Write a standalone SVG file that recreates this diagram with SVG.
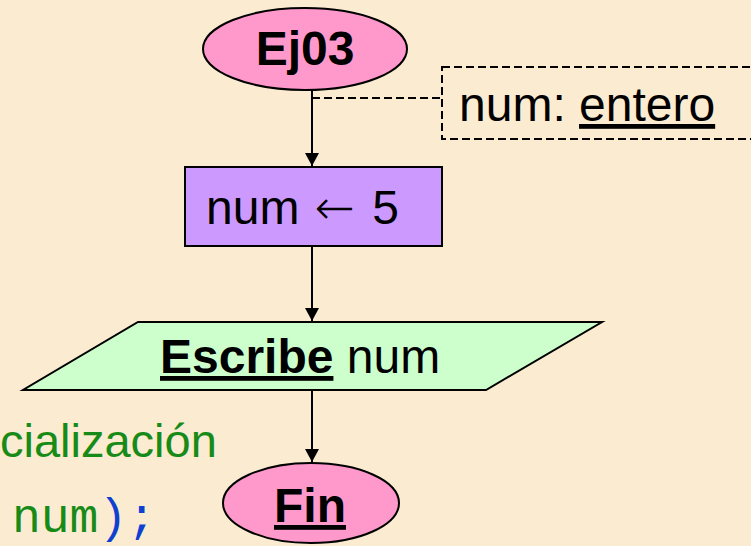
<svg xmlns="http://www.w3.org/2000/svg" width="751" height="546" viewBox="0 0 751 546">
<style>
  .shape{stroke:#000;stroke-width:2}
  .t{font-family:Arial,"Liberation Sans",sans-serif;font-size:48px;fill:#000}
  .b{font-weight:bold}
  .u{text-decoration:underline}
  .conn{stroke:#000;stroke-width:2;fill:none}
  .dash{stroke:#000;stroke-width:2;stroke-dasharray:8 4;fill:none}
  .mono{font-family:"Courier New","Liberation Mono",monospace;font-size:48px}
  .arrowglyph{font-family:"DejaVu Sans",sans-serif;font-weight:200}
</style>
<defs>
  <marker id="arr" markerWidth="14" markerHeight="14" refX="13" refY="7" orient="auto" markerUnits="userSpaceOnUse">
    <path d="M0,0 L13,7 L0,14 Z" fill="#000"/>
  </marker>
</defs>
<rect x="0" y="0" width="751" height="546" fill="#FBEBD0"/>

<g id="bg-text">
  <text x="0" y="457" class="t" style="fill:#178A17;font-size:47px">cialización</text>
  <text x="12" y="532" class="mono"><tspan fill="#178A17">num</tspan><tspan fill="#1040D0">);</tspan></text>
</g>

<g id="connectors">
  <line x1="312" y1="90" x2="312" y2="166" class="conn" marker-end="url(#arr)"/>
  <line x1="312" y1="246" x2="312" y2="321" class="conn" marker-end="url(#arr)"/>
  <line x1="312" y1="390" x2="312" y2="462" class="conn" marker-end="url(#arr)"/>
  <line x1="312" y1="98" x2="442" y2="98" class="dash"/>
</g>

<g id="note">
  <rect x="442" y="67" width="320" height="72" fill="#FFCC99" class="dash"/>
  <text x="459" y="121" class="t">num: <tspan class="u">entero</tspan></text>
</g>

<g id="start">
  <ellipse cx="305" cy="49" rx="102" ry="41" fill="#FF99CC" class="shape"/>
  <text x="305" y="65" class="t b" text-anchor="middle">Ej03</text>
</g>

<g id="assign">
  <rect x="185" y="167" width="257" height="79" fill="#CC99FF" class="shape"/>
  <text x="206" y="224" class="t">num <tspan class="arrowglyph" dx="2">←</tspan><tspan dx="4"> 5</tspan></text>
</g>

<g id="output">
  <polygon points="138,322 602,322 486,390 23,390" fill="#CCFFCC" class="shape"/>
  <text x="160" y="373" class="t"><tspan class="b u">Escribe</tspan> num</text>
</g>

<g id="end">
  <ellipse cx="311" cy="503" rx="88" ry="40" fill="#FF99CC" class="shape"/>
  <text x="310" y="522" class="t b u" text-anchor="middle">Fin</text>
</g>
</svg>
